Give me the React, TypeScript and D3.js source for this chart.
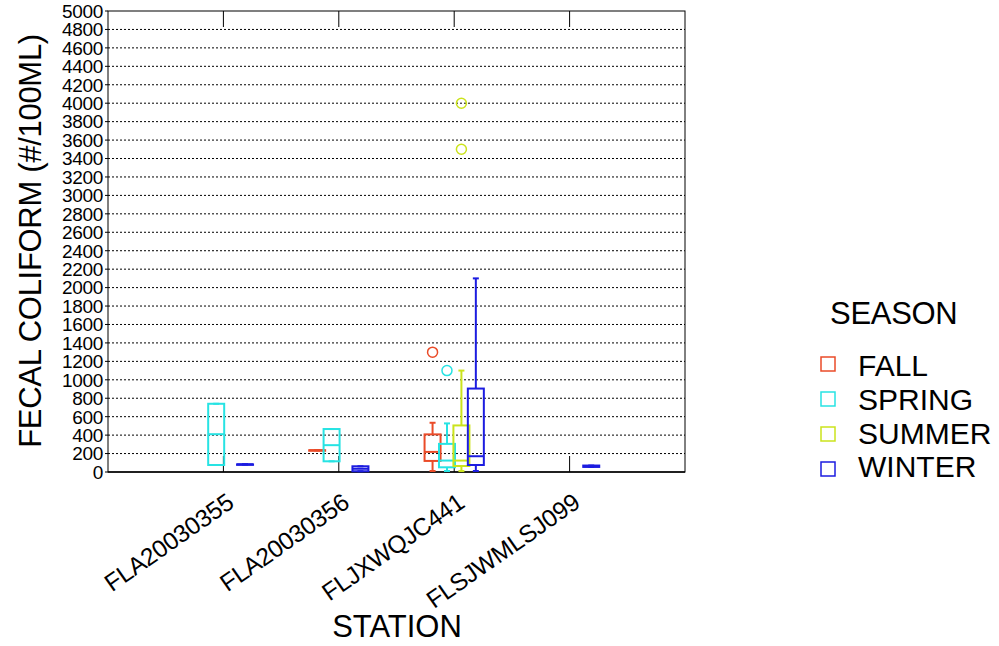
import React from "react";
import * as d3 from "d3";

const stations = ["FLA20030355", "FLA20030356", "FLJXWQJC441", "FLSJWMLSJ099"];
const seasons = ["FALL", "SPRING", "SUMMER", "WINTER"];
const seasonColors = ["#ea4b28", "#27e3e3", "#cbe31c", "#1c1ce0"];
const yTicks = d3.range(0, 5001, 200);

// box records
const boxStation = [0, 0, 1, 1, 1, 2, 2, 2, 2, 3];
const boxSeason = [1, 3, 0, 1, 3, 0, 1, 2, 3, 3];
const whiskLow = [76, 83, 236, 116, 8, 11, 11, 10, 11, 55];
const q1 = [76, 83, 236, 116, 8, 120, 51, 65, 76, 55];
const median = [410, 83, 236, 291, 35, 218, 124, 124, 171, 62];
const q3 = [740, 83, 236, 466, 62, 408, 305, 505, 905, 70];
const whiskHigh = [740, 83, 236, 466, 62, 534, 527, 1100, 2100, 70];
const outliers = [[], [], [], [], [], [1300], [1100], [3500, 4000], [], []];

const seasonOffset = [-0.1875, -0.0625, 0.0625, 0.1875];

export default function App() {
  const x = d3.scaleLinear().domain([0, 5]).range([108, 685]);
  const y = d3.scaleLinear().domain([0, 5000]).range([472, 11]);
  const boxW = 16;
  const capW = 6;
  const font = "Liberation Sans, Arial, sans-serif";

  return (
    <svg
      width={999}
      height={646}
      style={{ position: "absolute", left: 0, top: 0, background: "#fff" }}
      fontFamily={font}
    >
      {/* gridlines */}
      {yTicks
        .filter((t) => t > 0 && t < 5000)
        .map((t) => (
          <line
            key={"g" + t}
            x1={x(0)}
            x2={x(5)}
            y1={y(t)}
            y2={y(t)}
            stroke="#000"
            strokeWidth={1}
            strokeDasharray="2,2"
          />
        ))}
      {/* frame */}
      <rect x={x(0)} y={y(5000)} width={x(5) - x(0)} height={y(0) - y(5000)} fill="none" stroke="#000" strokeWidth={1} />
      <line x1={x(0)} x2={x(5)} y1={y(0)} y2={y(0)} stroke="#000" strokeWidth={1.5} />
      {/* y ticks & labels */}
      {yTicks.map((t) => (
        <g key={"yt" + t}>
          <line x1={x(0) - 3} x2={x(0)} y1={y(t)} y2={y(t)} stroke="#000" />
          <text x={103} y={y(t)} dy="0.36em" textAnchor="end" fontSize={19} letterSpacing={-0.3}>
            {t}
          </text>
        </g>
      ))}
      {/* x ticks top and bottom */}
      {stations.map((s, i) => (
        <g key={"xt" + s}>
          <line x1={x(i + 1)} x2={x(i + 1)} y1={y(5000)} y2={y(5000) + 16} stroke="#000" />
          <line x1={x(i + 1)} x2={x(i + 1)} y1={y(0)} y2={y(0) - 16} stroke="#000" />
          <text
            transform={`translate(${x(i + 1) + 12},506) rotate(-35)`}
            textAnchor="end"
            fontSize={24.5}
            letterSpacing={-0.3}
          >
            {s}
          </text>
        </g>
      ))}
      {/* boxes */}
      {boxStation.map((si, k) => {
        const cx = x(si + 1 + seasonOffset[boxSeason[k]]);
        const c = seasonColors[boxSeason[k]];
        return (
          <g key={"b" + k} stroke={c} fill="none" strokeWidth={2}>
            <line x1={cx} x2={cx} y1={y(q3[k])} y2={y(whiskHigh[k])} />
            <line x1={cx} x2={cx} y1={y(q1[k])} y2={y(whiskLow[k])} />
            <line x1={cx - capW / 2} x2={cx + capW / 2} y1={y(whiskHigh[k])} y2={y(whiskHigh[k])} />
            <line x1={cx - capW / 2} x2={cx + capW / 2} y1={y(whiskLow[k])} y2={y(whiskLow[k])} />
            <rect x={cx - boxW / 2} y={y(q3[k])} width={boxW} height={Math.max(0.5, y(q1[k]) - y(q3[k]))} />
            <line x1={cx - boxW / 2} x2={cx + boxW / 2} y1={y(median[k])} y2={y(median[k])} />
            {outliers[k].map((o, j) => (
              <circle key={j} cx={cx} cy={y(o)} r={5} strokeWidth={1.5} />
            ))}
          </g>
        );
      })}
      {/* axis titles */}
      <text transform={`translate(41,241) rotate(-90)`} textAnchor="middle" fontSize={31} letterSpacing={-0.3}>
        FECAL COLIFORM (#/100ML)
      </text>
      <text x={397} y={637} textAnchor="middle" fontSize={31}>
        STATION
      </text>
      {/* legend */}
      <text x={830} y={324} fontSize={31} letterSpacing={-0.3}>
        SEASON
      </text>
      {seasons.map((s, i) => (
        <g key={"l" + s}>
          <rect x={821} y={357 + i * 35} width={14} height={14} fill="none" stroke={seasonColors[i]} strokeWidth={1.5} />
          <text x={858} y={376 + i * 33.8} fontSize={30}>
            {s}
          </text>
        </g>
      ))}
    </svg>
  );
}
